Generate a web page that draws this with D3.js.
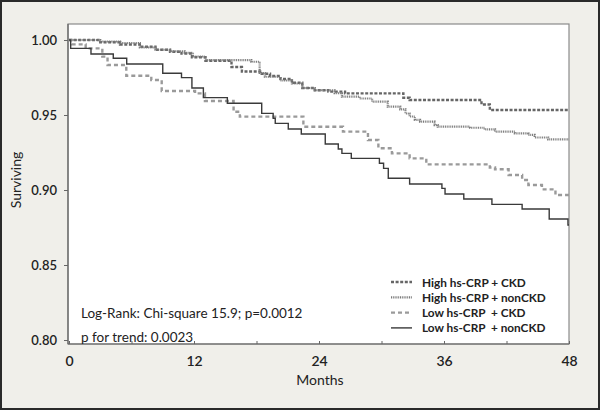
<!DOCTYPE html>
<html><head><meta charset="utf-8">
<script src="https://cdn.jsdelivr.net/npm/d3@7"></script>
<style>body{margin:0;background:#fff}svg{display:block}</style>
</head><body><svg id="c" width="600" height="410"></svg>
<script>
const seriesNames = ["High hs-CRP + CKD", "High hs-CRP + nonCKD", "Low hs-CRP  + CKD", "Low hs-CRP  + nonCKD"];
const xTickValues = [0, 6, 12, 18, 24, 30, 36, 42, 48];
const xTickLabels = ["0", "", "12", "", "24", "", "36", "", "48"];
const yTickValues = [0.80, 0.85, 0.90, 0.95, 1.00];
const yTickLabels = ["0.80", "0.85", "0.90", "0.95", "1.00"];

const highCkdMonths = [0, 3.0, 4.9, 6.8, 8.3, 9.7, 10.8, 11.8, 13.1, 15.6, 16.6, 18.5, 19.3, 20.3, 21.4, 22.4, 23.6, 24.9, 26.5, 32.1, 32.7, 39.6, 40.4, 48];
const highCkdSurv   = [1.0, 0.9985, 0.997, 0.9955, 0.9935, 0.9922, 0.991, 0.9885, 0.9862, 0.982, 0.979, 0.9775, 0.976, 0.974, 0.9715, 0.968, 0.9665, 0.9656, 0.9644, 0.9615, 0.960, 0.957, 0.9533, 0.9533];

const highNonCkdMonths = [0, 3.0, 4.9, 6.8, 8.3, 9.7, 11.1, 11.9, 13.1, 17.5, 18.3, 18.8, 20.3, 21.4, 22.4, 23.6, 25.5, 26.2, 27.9, 29.1, 30.6, 31.8, 32.3, 32.7, 33.2, 33.7, 35.1, 35.4, 38.5, 39.9, 40.9, 42.8, 44.1, 44.7, 46.0, 48];
const highNonCkdSurv   = [1.0, 0.999, 0.998, 0.995, 0.9935, 0.9925, 0.9915, 0.989, 0.9866, 0.9855, 0.978, 0.9755, 0.973, 0.971, 0.968, 0.9665, 0.9645, 0.9622, 0.961, 0.9589, 0.9556, 0.9538, 0.951, 0.949, 0.9467, 0.9456, 0.9433, 0.9422, 0.9415, 0.9404, 0.9389, 0.9378, 0.9367, 0.935, 0.9338, 0.9338];

const lowCkdMonths = [0, 0.26, 1.6, 3.2, 3.7, 5.5, 7.9, 8.9, 12.1, 13.05, 15.8, 16.4, 22.5, 26.3, 28.7, 29.7, 31.0, 32.7, 34.3, 40.4, 40.9, 42.2, 43.5, 44.1, 45.4, 46.7, 48];
const lowCkdSurv   = [1.0, 0.9971, 0.9944, 0.9889, 0.9833, 0.9762, 0.9733, 0.966, 0.9644, 0.9593, 0.9522, 0.9489, 0.9422, 0.9389, 0.9333, 0.9278, 0.9244, 0.9211, 0.9171, 0.915, 0.9138, 0.910, 0.9067, 0.9033, 0.9004, 0.8967, 0.8967];

const lowNonCkdMonths = [0, 0.16, 2.11, 4.25, 5.54, 9.0, 10.8, 11.8, 12.9, 15.2, 18.5, 19.6, 19.8, 21.05, 22.3, 24.6, 25.85, 26.2, 27.1, 29.8, 30.2, 30.65, 32.7, 35.8, 36.1, 37.9, 40.6, 43.5, 46.1, 47.9, 48];
const lowNonCkdSurv   = [1.0, 0.9944, 0.9907, 0.9878, 0.984, 0.9778, 0.9749, 0.968, 0.9616, 0.9578, 0.9511, 0.9478, 0.9444, 0.9407, 0.9373, 0.9307, 0.9273, 0.9244, 0.9211, 0.9178, 0.9144, 0.9078, 0.904, 0.9011, 0.8973, 0.894, 0.8904, 0.8873, 0.8807, 0.8767, 0.8767];

const statLines = ["Log-Rank: Chi-square 15.9; p=0.0012", "p for trend: 0.0023"];

const styles = [
  {stroke: "#666666", width: 2.4, dash: "3,1.6"},
  {stroke: "#7a7a7a", width: 2.2, dash: "1,0.8"},
  {stroke: "#9a9a9a", width: 2.4, dash: "4,3"},
  {stroke: "#3a3a3a", width: 1.4, dash: null}
];
const allSeries = [
  [highCkdMonths, highCkdSurv],
  [highNonCkdMonths, highNonCkdSurv],
  [lowCkdMonths, lowCkdSurv],
  [lowNonCkdMonths, lowNonCkdSurv]
];

const font = "Lato, 'Open Sans', sans-serif";
const svg = d3.select("#c");
svg.append("rect").attr("x", 1).attr("y", 1).attr("width", 598).attr("height", 408)
  .attr("fill", "#f0efea").attr("stroke", "#2a2a2a").attr("stroke-width", 2);

const L = 68, R = 569, T = 24, B = 344;
const x = d3.scaleLinear().domain([0, 48]).range([69, 569]);
const y = d3.scaleLinear().domain([0.80, 1.00]).range([340, 40]);

svg.append("rect").attr("x", L).attr("y", T).attr("width", R - L).attr("height", B - T)
  .attr("fill", "#fff").attr("stroke", "#8a8a8a").attr("stroke-width", 1.2);

const line = d3.line().curve(d3.curveStepAfter).x(d => x(d[0])).y(d => y(d[1]));
allSeries.forEach((s, i) => {
  const pts = s[0].map((m, k) => [m, s[1][k]]);
  svg.append("path").datum(pts).attr("d", line).attr("fill", "none")
    .attr("stroke", styles[i].stroke).attr("stroke-width", styles[i].width)
    .attr("stroke-dasharray", styles[i].dash);
});

// axes
const yAxis = d3.axisLeft(y).tickValues(yTickValues).tickFormat((d, i) => yTickLabels[i]).tickSize(4).tickPadding(7);
const gy = svg.append("g").attr("transform", `translate(${L},0)`).call(yAxis);
gy.select(".domain").attr("d", `M0,${T}V${B}`).attr("stroke", "#666").attr("stroke-width", 1.2);
gy.selectAll(".tick line").attr("stroke", "#666");
gy.selectAll("text").attr("font-family", font).attr("font-size", 13).attr("fill", "#222").attr("font-weight", 600);

const xAxis = d3.axisBottom(x).tickValues(xTickValues).tickFormat((d, i) => xTickLabels[i]).tickSize(-3).tickPadding(12);
const gx = svg.append("g").attr("transform", `translate(0,${B})`).call(xAxis);
gx.select(".domain").attr("d", `M${L},0H${R}`).attr("stroke", "#666").attr("stroke-width", 1.2);
gx.selectAll(".tick line").attr("stroke", "#666");
gx.selectAll("text").attr("font-family", font).attr("font-size", 14).attr("fill", "#222").attr("font-weight", 600);

svg.append("text").attr("x", 320).attr("y", 385).attr("text-anchor", "middle")
  .attr("font-family", font).attr("font-size", 14).attr("fill", "#222").text("Months");
svg.append("text").attr("transform", "translate(21,180) rotate(-90)").attr("text-anchor", "middle")
  .attr("font-family", font).attr("font-size", 14).attr("fill", "#222").text("Surviving");

statLines.forEach((t, i) => {
  svg.append("text").attr("x", 81).attr("y", 318 + i * 24).attr("font-family", font)
    .attr("font-size", 13.5).attr("fill", "#222").text(t);
});

// legend
seriesNames.forEach((n, i) => {
  const yy = 282 + i * 15.3;
  svg.append("line").attr("x1", 391).attr("x2", 412).attr("y1", yy).attr("y2", yy)
    .attr("stroke", styles[i].stroke).attr("stroke-width", styles[i].width)
    .attr("stroke-dasharray", styles[i].dash);
  svg.append("text").attr("x", 422).attr("y", yy + 4.5).attr("font-family", font)
    .attr("font-size", 11.8).attr("font-weight", 700).attr("fill", "#222")
    .attr("xml:space", "preserve").style("white-space", "pre").text(n);
});
</script></body></html>
